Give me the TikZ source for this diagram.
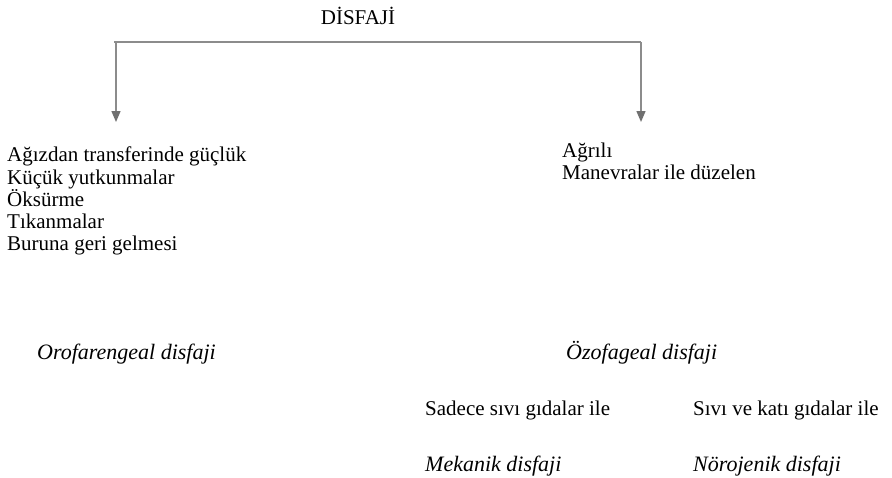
\documentclass[tikz,border=0pt]{standalone}
\usepackage{fontspec}
\setmainfont{Liberation Serif}
\usetikzlibrary{arrows.meta}
\definecolor{linegray}{HTML}{8C8C8C}
\definecolor{tipgray}{HTML}{707070}
\begin{document}
\begin{tikzpicture}[x=1pt,y=-1pt,
  txt/.style={inner sep=0pt,font=\fontsize{21}{22.2}\selectfont},
  lbl/.style={txt,anchor=base west},
  itlbl/.style={txt,anchor=base west,font=\fontsize{22}{23}\selectfont\itshape},
  branch/.style={draw=linegray,line width=1.4pt},
  downarrow/.style={branch,-{Triangle[width=9pt,length=11pt,color=tipgray]}}]
  \useasboundingbox (0,0) rectangle (892,477);

  % root
  \node[txt,anchor=base] (root) at (358,24) {DİSFAJİ};

  % bracket joining the two branches
  \coordinate (lcorner) at (116,42);
  \coordinate (rcorner) at (641,42);
  \coordinate (ltip) at (116,122);
  \coordinate (rtip) at (641,122);
  \draw[branch] ([xshift=-2pt]lcorner) -- (rcorner);
  \draw[downarrow] (lcorner) -- (ltip);
  \draw[downarrow] (rcorner) -- (rtip);

  % symptoms of each branch
  \node[txt,anchor=north west,align=left] (oro) at (7,147)
    {Ağızdan transferinde güçlük\\Küçük yutkunmalar\\Öksürme\\Tıkanmalar\\Buruna geri gelmesi};
  \node[txt,anchor=north west,align=left] (ozo) at (562,143)
    {Ağrılı\\Manevralar ile düzelen};

  % type names
  \node[itlbl] (orotype) at (37,359) {Orofarengeal disfaji};
  \node[itlbl] (ozotype) at (566,359) {Özofageal disfaji};

  % oesophageal subtypes
  \node[lbl] (liquid) at (425,415) {Sadece sıvı gıdalar ile};
  \node[lbl] (solid) at (693,415) {Sıvı ve katı gıdalar ile};
  \node[itlbl] (mech) at (425,471) {Mekanik disfaji};
  \node[itlbl] (neuro) at (693,471) {Nörojenik disfaji};
\end{tikzpicture}
\end{document}
